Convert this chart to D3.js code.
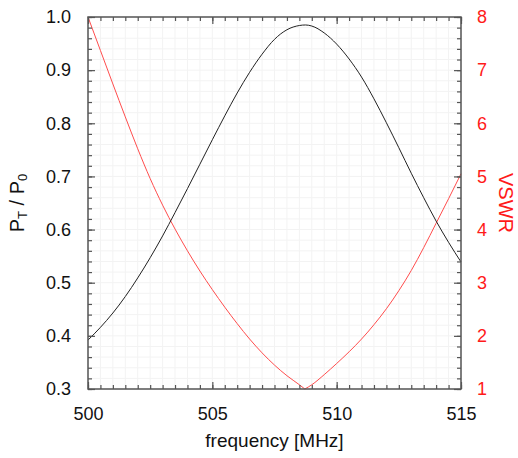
<!DOCTYPE html>
<html>
<head>
<meta charset="utf-8">
<script src="https://cdn.jsdelivr.net/npm/d3@7"></script>
<style>
  body { margin: 0; background: #fff; }
  svg { font-family: "Liberation Sans", Arial, sans-serif; }
  .axis path { display: none; }
  .axis line { stroke: #555; stroke-width: 1.2; }
  .axis text { font-size: 18px; fill: #111; }
  .axis--vswr text { fill: #ff1a1a; }
  .grid line { stroke: #f3f3f3; stroke-width: 1; }
</style>
</head>
<body>
<div id="chart"></div>
<script>

// frequency [MHz] and transmitted power ratio
var freqP = [500.0, 500.5, 501.0, 501.5, 502.0, 502.5, 503.0, 503.5, 504.0, 504.5, 505.0,
             505.5, 506.0, 506.5, 507.0, 507.5, 508.0, 508.5, 508.75, 509.0, 509.5, 510.0,
             510.5, 511.0, 511.5, 512.0, 512.5, 513.0, 513.5, 514.0, 514.5, 515.0];
var ptp0 = [0.392, 0.416, 0.443, 0.474, 0.509, 0.547, 0.588, 0.632, 0.677, 0.723, 0.769,
            0.814, 0.857, 0.896, 0.930, 0.958, 0.976, 0.984, 0.985, 0.983, 0.970, 0.949,
            0.921, 0.887, 0.846, 0.801, 0.754, 0.706, 0.660, 0.616, 0.576, 0.539];

// frequency [MHz] and VSWR
var freqV = [500.0, 500.5, 501.0, 501.5, 502.0, 502.5, 503.0, 503.5, 504.0, 504.5, 505.0,
             505.5, 506.0, 506.5, 507.0, 507.5, 508.0, 508.5, 508.72, 509.0, 509.5, 510.0,
             510.5, 511.0, 511.5, 512.0, 512.5, 513.0, 513.5, 514.0, 514.5, 515.0];
var vswr = [8.00, 7.37, 6.74, 6.12, 5.52, 4.96, 4.46, 4.01, 3.60, 3.22, 2.87,
            2.54, 2.23, 1.94, 1.68, 1.45, 1.25, 1.08, 1.00, 1.08, 1.27, 1.48,
            1.70, 1.94, 2.21, 2.51, 2.85, 3.23, 3.66, 4.12, 4.58, 5.05];

var xTicks = [500, 505, 510, 515];
var yTicks = [0.3, 0.4, 0.5, 0.6, 0.7, 0.8, 0.9, 1.0];
var vTicks = [1, 2, 3, 4, 5, 6, 7, 8];

var margin = {top: 17, right: 57, bottom: 69, left: 88},
    width = 518 - margin.left - margin.right,
    height = 458 - margin.top - margin.bottom;

var svg = d3.select("#chart").append("svg")
    .attr("width", 518)
    .attr("height", 458)
  .append("g")
    .attr("transform", "translate(" + margin.left + "," + margin.top + ")");

var x = d3.scaleLinear().domain([500, 515]).range([0, width]);
var y = d3.scaleLinear().domain([0.3, 1.0]).range([height, 0]);
var yv = d3.scaleLinear().domain([1, 8]).range([height, 0]);

var xMinor = d3.range(500, 515.01, 0.5);
var yMinor = d3.range(0.3, 1.001, 0.02);
var vMinor = d3.range(1, 8.001, 0.2);

// light grid at the minor ticks
svg.append("g").attr("class", "grid")
  .selectAll("line").data(xMinor).enter().append("line")
    .attr("x1", function(d) { return x(d); })
    .attr("x2", function(d) { return x(d); })
    .attr("y1", 0).attr("y2", height);

svg.append("g").attr("class", "grid")
  .selectAll("line").data(yMinor).enter().append("line")
    .attr("y1", function(d) { return y(d); })
    .attr("y2", function(d) { return y(d); })
    .attr("x1", 0).attr("x2", width);

// curves
var ptData = freqP.map(function(f, i) { return [f, ptp0[i]]; });
var vData = freqV.map(function(f, i) { return [f, vswr[i]]; });

var lineP = d3.line()
    .x(function(d) { return x(d[0]); })
    .y(function(d) { return y(d[1]); })
    .curve(d3.curveMonotoneX);

var lineV = d3.line()
    .x(function(d) { return x(d[0]); })
    .y(function(d) { return yv(d[1]); })
    .curve(d3.curveMonotoneX);

// VSWR has a sharp minimum, so draw the two branches separately
var iMin = d3.minIndex(vswr);
[vData.slice(0, iMin + 1), vData.slice(iMin)].forEach(function(branch) {
    svg.append("path")
        .datum(branch)
        .attr("fill", "none")
        .attr("stroke", "#ff4d4d")
        .attr("stroke-width", 1)
        .attr("d", lineV);
});

svg.append("path")
    .datum(ptData)
    .attr("fill", "none")
    .attr("stroke", "#222")
    .attr("stroke-width", 1)
    .attr("d", lineP);

// bottom axis
svg.append("g")
    .attr("class", "axis")
    .attr("transform", "translate(0," + height + ")")
    .call(d3.axisBottom(x).tickValues(xMinor).tickSize(-4).tickFormat(""));
svg.append("g")
    .attr("class", "axis")
    .attr("transform", "translate(0," + height + ")")
    .call(d3.axisBottom(x).tickValues(xTicks).tickSize(-7).tickPadding(18).tickFormat(d3.format("d")));

// top axis
svg.append("g")
    .attr("class", "axis")
    .call(d3.axisTop(x).tickValues(xMinor).tickSize(-4).tickFormat(""));
svg.append("g")
    .attr("class", "axis")
    .call(d3.axisTop(x).tickValues(xTicks).tickSize(-7).tickFormat(""));

// left axis
svg.append("g")
    .attr("class", "axis")
    .call(d3.axisLeft(y).tickValues(yMinor).tickSize(-4).tickFormat(""));
svg.append("g")
    .attr("class", "axis")
    .call(d3.axisLeft(y).tickValues(yTicks).tickSize(-7).tickPadding(17).tickFormat(d3.format(".1f")));

// right axis (VSWR)
svg.append("g")
    .attr("class", "axis")
    .attr("transform", "translate(" + width + ",0)")
    .call(d3.axisRight(yv).tickValues(vMinor).tickSize(-4).tickFormat(""));
svg.append("g")
    .attr("class", "axis axis--vswr")
    .attr("transform", "translate(" + width + ",0)")
    .call(d3.axisRight(yv).tickValues(vTicks).tickSize(-7).tickPadding(16).tickFormat(d3.format("d")));

// frame
svg.append("rect")
    .attr("width", width)
    .attr("height", height)
    .attr("fill", "none")
    .attr("stroke", "#555")
    .attr("stroke-width", 1.5);

// axis titles
svg.append("text")
    .attr("x", width / 2)
    .attr("y", height + 58)
    .attr("text-anchor", "middle")
    .style("font-size", "19px")
    .attr("fill", "#111")
    .text("frequency [MHz]");

var yl = svg.append("text")
    .attr("transform", "translate(" + (-64) + "," + (height / 2) + ") rotate(-90)")
    .attr("text-anchor", "middle")
    .style("font-size", "20px")
    .attr("fill", "#111");
yl.append("tspan").text("P");
yl.append("tspan").attr("font-size", "13px").attr("dy", "3").text("T");
yl.append("tspan").attr("dy", "-3").text(" / P");
yl.append("tspan").attr("font-size", "13px").attr("dy", "3").text("0");

svg.append("text")
    .attr("transform", "translate(" + (width + 38) + "," + (height / 2) + ") rotate(90)")
    .attr("text-anchor", "middle")
    .style("font-size", "20px")
    .attr("fill", "#ff1a1a")
    .text("VSWR");

</script>
</body>
</html>
